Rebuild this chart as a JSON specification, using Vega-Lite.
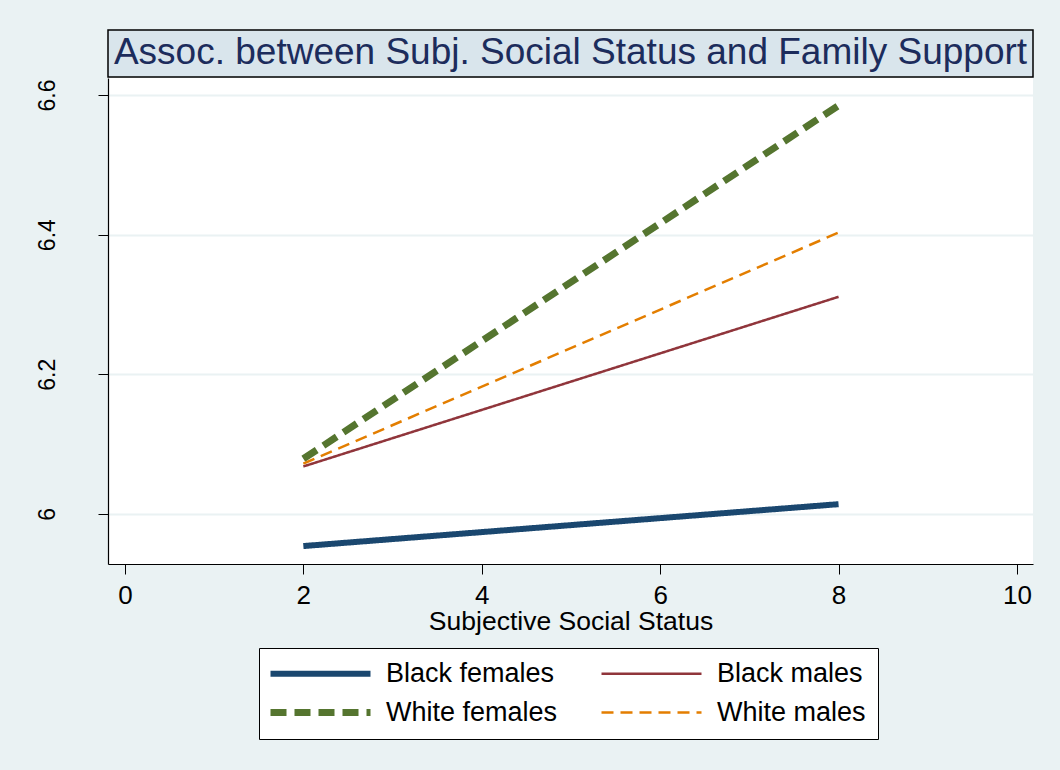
{
  "$schema": "https://vega.github.io/schema/vega-lite/v6.json",
  "background": "#eaf2f3",
  "padding": {"left": 36, "top": 29, "right": 28, "bottom": 34},
  "config": {"font": "Liberation Sans", "view": {"stroke": null}},
  "spacing": 0,
  "vconcat": [
    {
      "width": 925,
      "height": 47,
      "view": {"fill": "#d9e5ec", "stroke": "#000000", "strokeWidth": 1.5},
      "data": {"values": [{"title": "Assoc. between Subj. Social Status and Family Support"}]},
      "mark": {"type": "text", "fontSize": 37, "color": "#1c2c5c", "baseline": "middle", "align": "center", "dy": -1},
      "encoding": {"text": {"field": "title", "type": "nominal"}}
    },
    {
      "width": 925,
      "height": 486,
      "view": {"fill": "#ffffff", "stroke": null},
      "data": {
        "values": [
          {"group": "Black females", "status": 2, "support": 5.954},
          {"group": "Black females", "status": 8, "support": 6.014},
          {"group": "Black males", "status": 2, "support": 6.068},
          {"group": "Black males", "status": 8, "support": 6.311},
          {"group": "White females", "status": 2, "support": 6.079},
          {"group": "White females", "status": 8, "support": 6.585},
          {"group": "White males", "status": 2, "support": 6.072},
          {"group": "White males", "status": 8, "support": 6.403}
        ]
      },
      "mark": {"type": "line", "strokeCap": "butt"},
      "encoding": {
        "x": {
          "field": "status",
          "type": "quantitative",
          "scale": {"domain": [-0.19, 10.18], "nice": false, "zero": false},
          "axis": {
            "values": [0, 2, 4, 6, 8, 10],
            "grid": false,
            "tickSize": 10,
            "tickColor": "#000000",
            "domainColor": "#000000",
            "domainWidth": 1.2,
            "labelFontSize": 26,
            "labelColor": "#000000",
            "labelPadding": 8,
            "title": "Subjective Social Status",
            "titleFontSize": 26.5,
            "titleFontWeight": "normal",
            "titleColor": "#000000",
            "titlePadding": 0
          }
        },
        "y": {
          "field": "support",
          "type": "quantitative",
          "scale": {"domain": [5.9283, 6.6244], "nice": false, "zero": false},
          "axis": {
            "values": [6, 6.2, 6.4, 6.6],
            "format": "~g",
            "grid": true,
            "gridColor": "#eaf2f3",
            "gridWidth": 2,
            "tickSize": 10,
            "tickColor": "#000000",
            "domainColor": "#000000",
            "domainWidth": 1.2,
            "labelAngle": -90,
            "labelAlign": "center",
            "labelBaseline": "bottom",
            "labelFontSize": 23,
            "labelColor": "#000000",
            "labelPadding": 39,
            "title": null
          }
        },
        "color": {
          "field": "group",
          "type": "nominal",
          "scale": {
            "domain": ["Black females", "Black males", "White females", "White males"],
            "range": ["#1a476f", "#90353b", "#55752f", "#e37e00"]
          },
          "legend": {
            "title": null,
            "orient": "none",
            "legendX": 151,
            "legendY": 618,
            "direction": "horizontal",
            "columns": 2,
            "symbolType": "stroke",
            "symbolSize": 10000,
            "symbolOffset": 36,
            "labelFontSize": 27,
            "labelLimit": 400,
            "labelColor": "#000000",
            "labelOffset": 52,
            "padding": 12,
            "rowPadding": 11,
            "columnPadding": 38,
            "strokeColor": "#000000",
            "fillColor": "#ffffff",
            "encode": {
              "symbols": {
                "update": {
                  "strokeWidth": {"signal": "datum.label === 'White females' ? 7 : datum.label === 'Black females' ? 6 : 2.5"}
                }
              }
            }
          }
        },
        "strokeDash": {
          "field": "group",
          "type": "nominal",
          "scale": {
            "domain": ["Black females", "Black males", "White females", "White males"],
            "range": [[1, 0], [1, 0], [16, 8], [12, 7]]
          },
          "legend": {
            "title": null,
            "orient": "none",
            "legendX": 151,
            "legendY": 618,
            "direction": "horizontal",
            "columns": 2,
            "symbolType": "stroke",
            "symbolSize": 10000,
            "symbolOffset": 36,
            "labelFontSize": 27,
            "labelLimit": 400,
            "labelColor": "#000000",
            "labelOffset": 52,
            "padding": 12,
            "rowPadding": 11,
            "columnPadding": 38,
            "strokeColor": "#000000",
            "fillColor": "#ffffff"
          }
        },
        "strokeWidth": {
          "condition": [
            {"test": "datum.group === 'White females'", "value": 7},
            {"test": "datum.group === 'Black females'", "value": 6}
          ],
          "value": 2.5
        }
      }
    }
  ]
}
